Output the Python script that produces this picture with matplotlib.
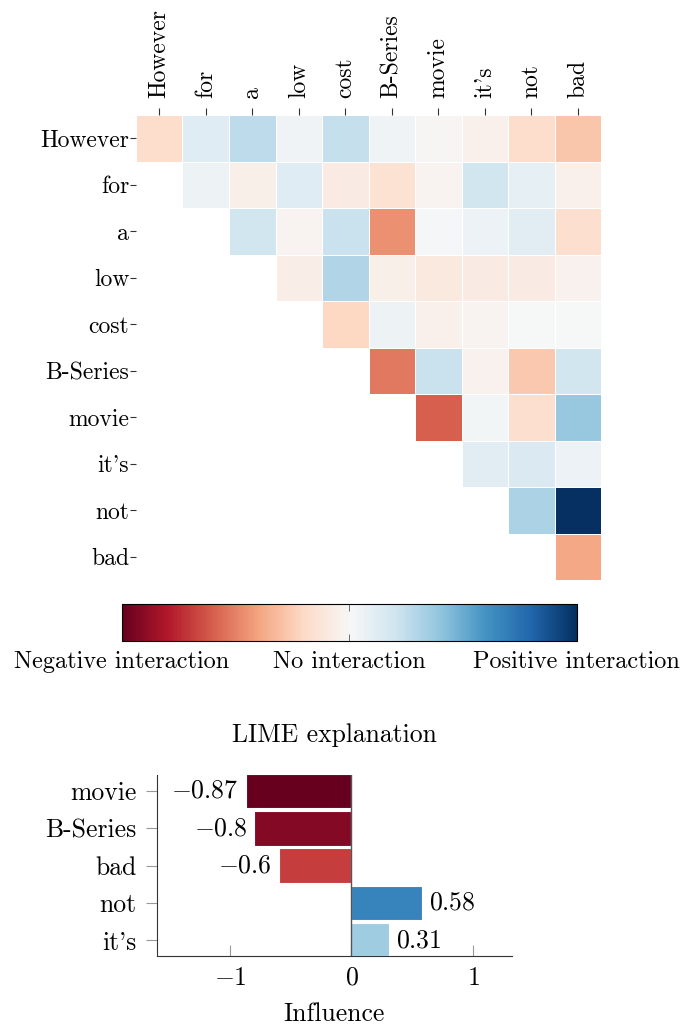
import numpy as np
import matplotlib
matplotlib.use("Agg")
import matplotlib.pyplot as plt
from matplotlib.colors import Normalize

plt.rcParams['font.family'] = 'serif'
plt.rcParams['font.serif'] = ['cmr10']
plt.rcParams['mathtext.fontset'] = 'cm'
plt.rcParams['axes.unicode_minus'] = False

tokens = ["However", "for", "a", "low", "cost", "B-Series", "movie", "it's", "not", "bad"]

# Upper-triangular interaction values (row i, columns i..9)
row_however = [-0.18, 0.12, 0.26, 0.04, 0.24, 0.04, -0.01, -0.05, -0.18, -0.28]
row_for = [0.05, -0.06, 0.12, -0.08, -0.15, -0.03, 0.19, 0.09, -0.05]
row_a = [0.19, -0.03, 0.22, -0.46, 0.01, 0.06, 0.11, -0.17]
row_low = [-0.07, 0.30, -0.06, -0.10, -0.08, -0.08, -0.04]
row_cost = [-0.21, 0.05, -0.05, -0.03, 0.0, 0.0]
row_bseries = [-0.53, 0.22, -0.04, -0.27, 0.19]
row_movie = [-0.60, 0.03, -0.17, 0.38]
row_its = [0.11, 0.15, 0.06]
row_not = [0.32, 1.00]
row_bad = [-0.39]
rows = [row_however, row_for, row_a, row_low, row_cost, row_bseries,
        row_movie, row_its, row_not, row_bad]

cbar_labels = ["Negative interaction", "No interaction", "Positive interaction"]

lime_tokens = ["movie", "B-Series", "bad", "not", "it's"]
lime_values = [-0.87, -0.80, -0.60, 0.58, 0.31]
lime_labels = ["$-0.87$", "$-0.8$", "$-0.6$", "$0.58$", "$0.31$"]

n = len(tokens)
M = np.full((n, n), np.nan)
for i, r in enumerate(rows):
    M[i, i:] = r
Mm = np.ma.masked_invalid(M)

cmap = plt.get_cmap('RdBu')
vmax = np.nanmax(np.abs(M))
norm = Normalize(vmin=-vmax, vmax=vmax)

fig = plt.figure(figsize=(6.84, 10.29), dpi=100)

# Heatmap
ax = fig.add_axes([0.1988, 0.4363, 0.680, 0.4519])
ax.pcolormesh(np.arange(n + 1), np.arange(n + 1), Mm, cmap=cmap, norm=norm,
              edgecolors='white', linewidth=0.6)
ax.set_xlim(0, n)
ax.set_ylim(n, 0)
ax.set_xticks(np.arange(n) + 0.5)
ax.set_yticks(np.arange(n) + 0.5)
ax.set_xticklabels(tokens, rotation=90, fontsize=17)
ax.set_yticklabels(tokens, fontsize=17)
ax.xaxis.tick_top()
ax.tick_params(axis='x', length=5, width=0.8, color='#333333', pad=7)
ax.tick_params(axis='y', length=4.5, width=0.8, color='#333333', pad=0.5)
for s in ax.spines.values():
    s.set_visible(False)

# Colorbar
cax = fig.add_axes([0.1784, 0.3771, 0.665, 0.036])
sm = matplotlib.cm.ScalarMappable(norm=norm, cmap=cmap)
cb = fig.colorbar(sm, cax=cax, orientation='horizontal')
cb.set_ticks([-vmax, 0, vmax])
cb.set_ticklabels(cbar_labels)
cb.ax.tick_params(labelsize=17.5, direction='in', length=5, width=0.6,
                  color='#555555', pad=7, top=True)
cb.outline.set_linewidth(0.8)

# LIME bar chart
bx = fig.add_axes([0.2295, 0.0709, 0.519, 0.1759])
lmax = max(abs(v) for v in lime_values)
lnorm = Normalize(vmin=-lmax, vmax=lmax)
colors = [cmap(lnorm(v)) for v in lime_values]
bars = bx.barh(np.arange(len(lime_tokens)), lime_values, height=0.93,
               color=colors, edgecolor='white', linewidth=0.8, zorder=3)
bx.bar_label(bars, labels=lime_labels, padding=5, fontsize=18.5)
bx.axvline(0, color='#555555', linewidth=1.0, zorder=4)
bx.set_yticks(np.arange(len(lime_tokens)))
bx.set_yticklabels(lime_tokens, fontsize=18.5)
bx.set_ylim(4.42, -0.43)
bx.set_xlim(-1.6, 1.32)
bx.set_xticks([-1, 0, 1])
bx.set_xticklabels(["$-1$", "$0$", "$1$"], fontsize=18.5)
bx.tick_params(axis='x', direction='in', length=8, width=0.8, color='#999999', pad=7)
bx.tick_params(axis='y', direction='out', length=8, width=0.8, color='#999999', pad=7)
bx.spines['top'].set_visible(False)
bx.spines['right'].set_visible(False)
bx.spines['left'].set_color('#333333')
bx.spines['bottom'].set_color('#333333')
bx.set_title("LIME explanation", fontsize=18.5, pad=24)
bx.set_xlabel("Influence", fontsize=18.5, labelpad=9)

fig.savefig("out.png", dpi=100)
